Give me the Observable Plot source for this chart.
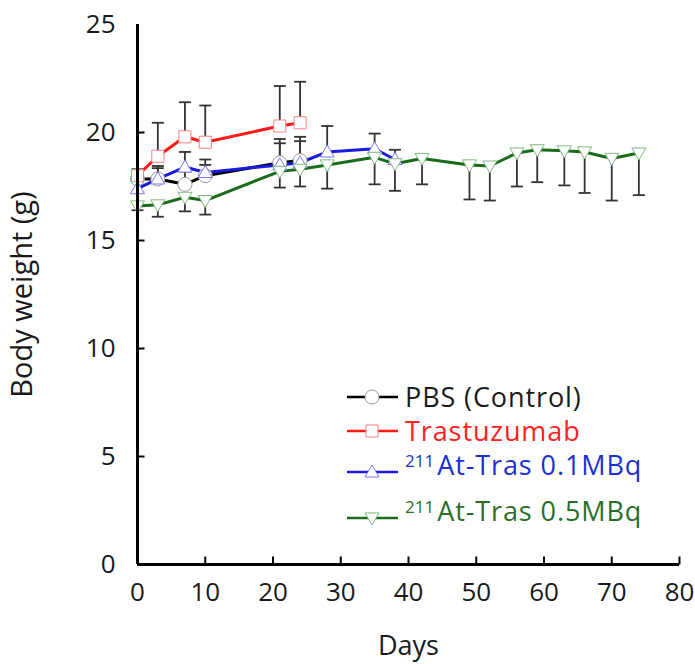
<!DOCTYPE html>
<html><head><meta charset="utf-8">
<script src="https://cdn.jsdelivr.net/npm/d3@7"></script>
<script src="https://cdn.jsdelivr.net/npm/@observablehq/plot@0.6"></script>
<style>
body{margin:0;background:#fff;}
#chart{width:695px;height:664px;}
</style>
</head><body><div id="chart"></div>
<script>
// ---- data ----
const seriesNames = ["PBS (Control)", "Trastuzumab", "At-Tras 0.1MBq", "At-Tras 0.5MBq"];
const seriesSup = ["", "", "211", "211"];
const lineColors = ["#000000", "#ff1a1a", "#1a1ae0", "#1a6b1a"];
const markerColors = ["#9a9a9a", "#ff8080", "#7878ff", "#80b880"];
const textColors = ["#1a1a1a", "#ff2020", "#2030d0", "#2a6e2a"];

const daysPBS = [0, 3, 7, 10, 21, 24];
const weightPBS = [17.85, 17.85, 17.6, 18.0, 18.6, 18.7];
const errPBS = [0.3, 0.5, 0.6, 0.5, 0.9, 0.9];

const daysTras = [0, 3, 7, 10, 21, 24];
const weightTras = [18.0, 18.9, 19.8, 19.55, 20.3, 20.45];
const errTras = [0.3, 1.55, 1.6, 1.7, 1.85, 1.9];

const daysAt01 = [0, 3, 7, 10, 21, 24, 28, 35, 38];
const weightAt01 = [17.4, 17.85, 18.4, 18.15, 18.5, 18.6, 19.1, 19.25, 18.75];
const errAt01 = [0.3, 0.6, 0.7, 0.6, 1.2, 1.2, 1.2, 0.7, 0.45];

const daysAt05 = [0, 3, 7, 10, 21, 24, 28, 35, 38, 42, 49, 52, 56, 59, 63, 66, 70, 74];
const weightAt05 = [16.6, 16.65, 17.0, 16.85, 18.2, 18.3, 18.5, 18.85, 18.55, 18.8, 18.5, 18.45, 19.05, 19.2, 19.15, 19.1, 18.8, 19.05];
const errAt05 = [0.2, 0.55, 0.65, 0.65, 0.75, 0.8, 1.1, 1.25, 1.25, 1.2, 1.6, 1.6, 1.55, 1.5, 1.6, 1.9, 1.95, 1.95];

const errDirection = [1, 1, 1, -1]; // upper bars for first three, lower for the last

const xTicks = [0, 10, 20, 30, 40, 50, 60, 70, 80];
const yTicks = [0, 5, 10, 15, 20, 25];

// ---- build tables ----
const raw = [
  [daysPBS, weightPBS, errPBS],
  [daysTras, weightTras, errTras],
  [daysAt01, weightAt01, errAt01],
  [daysAt05, weightAt05, errAt05]
];
const series = raw.map(([d, w, e], i) => d.map((day, j) => ({
  s: i, day, w: w[j], end: w[j] + errDirection[i] * e[j]
})));
const allRows = series.flat();

// ---- symbols ----
const rOf = size => Math.sqrt(size / Math.PI);
const triUp = {draw(c, size){const r = rOf(size); c.moveTo(0, -r); c.lineTo(r, 0.72*r); c.lineTo(-r, 0.72*r); c.closePath();}};
const triDown = {draw(c, size){const r = rOf(size); c.moveTo(0, r); c.lineTo(r, -0.72*r); c.lineTo(-r, -0.72*r); c.closePath();}};
const square = {draw(c, size){const r = rOf(size)*0.86; c.rect(-r, -r, 2*r, 2*r);}};
const circle = {draw(c, size){const r = rOf(size); c.moveTo(r, 0); c.arc(0, 0, r, 0, 2*Math.PI);}};
const cap = {draw(c, size){const r = rOf(size); c.moveTo(-r, 0); c.lineTo(r, 0);}};
const tickUp = {draw(c, size){const r = rOf(size); c.moveTo(0, 0); c.lineTo(0, -r);}};
const tickRight = {draw(c, size){const r = rOf(size); c.moveTo(0, 0); c.lineTo(r, 0);}};
const symbols = [circle, square, triUp, triDown];

const font = "'Open Sans', 'Noto Sans', sans-serif";

const marks = [
  // error bars
  Plot.ruleX(allRows, {x: "day", y1: "w", y2: "end", stroke: "#333", strokeWidth: 1.8}),
  Plot.dot(allRows, {x: "day", y: "end", symbol: cap, r: 6, stroke: "#333", strokeWidth: 1.8, fill: "none"}),
  // series lines
  ...series.map((rows, i) => Plot.line(rows, {x: "day", y: "w", stroke: lineColors[i], strokeWidth: 3})),
  // markers
  ...series.map((rows, i) => Plot.dot(rows, {x: "day", y: "w", symbol: symbols[i], r: 7, stroke: markerColors[i], strokeWidth: 1, fill: "white"})),
  // axis lines
  Plot.ruleX([0], {stroke: "#000", strokeWidth: 3}),
  Plot.ruleY([0], {stroke: "#000", strokeWidth: 3}),
  // inward ticks
  Plot.dot(xTicks.filter(v => v > 0), {x: d => d, y: 0, symbol: tickUp, r: 8, stroke: "#000", strokeWidth: 2, fill: "none"}),
  Plot.dot(yTicks.filter(v => v > 0 && v < 25), {x: 0, y: d => d, symbol: tickRight, r: 7, stroke: "#000", strokeWidth: 2, fill: "none"}),
  Plot.axisX({ticks: xTicks, tickSize: 0, tickPadding: 18, tickFormat: d => String(d), label: null}),
  Plot.axisY({ticks: yTicks, tickSize: 0, tickPadding: 22, tickFormat: d => String(d), label: null}),
  Plot.axisX({ticks: [], label: "Days", labelAnchor: "center", labelArrow: "none", labelOffset: 90, fontSize: 27}),
  Plot.axisY({ticks: [], label: "Body weight (g)", labelAnchor: "center", labelArrow: "none", labelOffset: 126, fontSize: 29})
];

const chart = Plot.plot({
  width: 695, height: 664,
  marginLeft: 137, marginRight: 16, marginTop: 24, marginBottom: 100,
  x: {domain: [0, 80]},
  y: {domain: [0, 25]},
  style: {fontSize: "26px", fontFamily: font, color: "#1a1a1a", background: "white", overflow: "visible"},
  marks
});

// ---- legend ----
const svg = d3.select(chart);
const legendRows = [397, 431, 472, 518];
const lg = svg.append("g").attr("font-family", font).attr("font-size", 27)
  .attr("letter-spacing", "0.9px").attr("text-anchor", "start");
seriesNames.forEach((name, i) => {
  const y = legendRows[i];
  const g = lg.append("g").attr("transform", `translate(0,${y})`);
  g.append("line").attr("x1", 347).attr("x2", 398).attr("y1", 0).attr("y2", 0)
    .attr("stroke", lineColors[i]).attr("stroke-width", 2.5);
  g.append("path").attr("transform", "translate(372,0)")
    .attr("d", d3.symbol(symbols[i], Math.PI * 7 * 7)())
    .attr("fill", "white").attr("stroke", markerColors[i]).attr("stroke-width", 1);
  const t = g.append("text").attr("x", 405).attr("dy", "0.36em").attr("fill", textColors[i]);
  if (seriesSup[i]) {
    t.append("tspan").attr("font-size", 17).attr("letter-spacing", "0px").attr("dy", "-0.3em").text(seriesSup[i]);
    t.append("tspan").attr("dy", "0.3em").attr("dx", 3).text(name);
  } else {
    t.text(name);
  }
});

document.getElementById("chart").appendChild(chart);
</script>
</body></html>
